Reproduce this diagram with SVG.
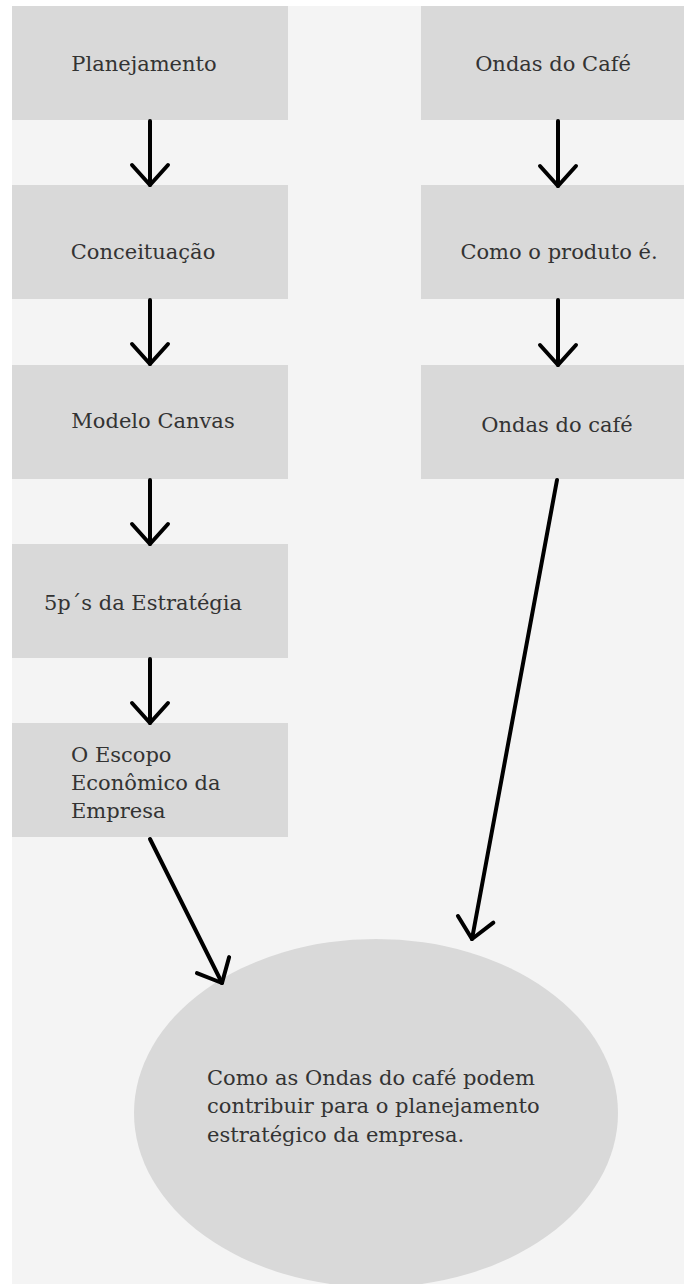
<svg xmlns="http://www.w3.org/2000/svg" width="684" height="1284" viewBox="0 0 684 1284">
<style>
.box{fill:#d9d9d9}
.lbl{font-family:"DejaVu Serif","Liberation Serif",serif;font-size:21px;fill:#333}
.c{text-anchor:middle}
.edge{stroke:#000;stroke-width:4;fill:none;stroke-linecap:round}
</style>
<defs>
<marker id="arr" markerUnits="userSpaceOnUse" markerWidth="60" markerHeight="60" refX="0" refY="0" orient="auto" overflow="visible" viewBox="-30 -30 60 60">
<path d="M-20,-18 L0,0 L-20,18" fill="none" stroke="#000" stroke-width="4" stroke-linecap="round" stroke-linejoin="round"/>
</marker>
</defs>
<rect x="0" y="0" width="684" height="1284" fill="#ffffff"/>
<rect x="12" y="6" width="672" height="1278" fill="#f4f4f4"/>
<g id="n1"><rect class="box" x="12" y="6" width="276" height="114"/><text class="lbl c" x="144" y="71">Planejamento</text></g>
<g id="n2"><rect class="box" x="12" y="185" width="276" height="114"/><text class="lbl c" x="143" y="259">Conceituação</text></g>
<g id="n3"><rect class="box" x="12" y="365" width="276" height="114"/><text class="lbl c" x="153" y="428">Modelo Canvas</text></g>
<g id="n4"><rect class="box" x="12" y="544" width="276" height="114"/><text class="lbl c" x="143" y="610">5p´s da Estratégia</text></g>
<g id="n5"><rect class="box" x="12" y="723" width="276" height="114"/><text class="lbl" x="71" y="762">O Escopo</text><text class="lbl" x="71" y="790">Econômico da</text><text class="lbl" x="71" y="818">Empresa</text></g>
<g id="n6"><rect class="box" x="421" y="6" width="263" height="114"/><text class="lbl c" x="553" y="71">Ondas do Café</text></g>
<g id="n7"><rect class="box" x="421" y="185" width="263" height="114"/><text class="lbl c" x="559" y="259">Como o produto é.</text></g>
<g id="n8"><rect class="box" x="421" y="365" width="263" height="114"/><text class="lbl c" x="557" y="432">Ondas do café</text></g>
<g id="n9"><ellipse class="box" cx="376" cy="1113" rx="242" ry="174"/><text class="lbl" x="207" y="1085">Como as Ondas do café podem</text><text class="lbl" x="207" y="1113">contribuir para o planejamento</text><text class="lbl" x="207" y="1142">estratégico da empresa.</text></g>
<g id="edges">
<line class="edge" x1="150" y1="121" x2="150" y2="185" marker-end="url(#arr)"/>
<line class="edge" x1="150" y1="300" x2="150" y2="364" marker-end="url(#arr)"/>
<line class="edge" x1="150" y1="480" x2="150" y2="544" marker-end="url(#arr)"/>
<line class="edge" x1="150" y1="659" x2="150" y2="723" marker-end="url(#arr)"/>
<line class="edge" x1="558" y1="121" x2="558" y2="186" marker-end="url(#arr)"/>
<line class="edge" x1="558" y1="300" x2="558" y2="365" marker-end="url(#arr)"/>
<line class="edge" x1="557" y1="480" x2="472" y2="939" marker-end="url(#arr)"/>
<line class="edge" x1="150" y1="839" x2="222" y2="983" marker-end="url(#arr)"/>
</g>
</svg>
